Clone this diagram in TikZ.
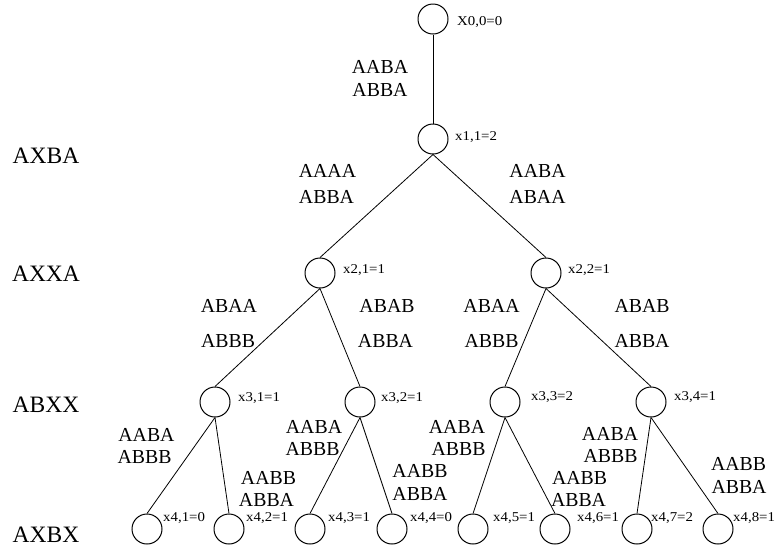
\documentclass[tikz,border=0pt]{standalone}
\usepackage{fontspec}
\setmainfont{Liberation Serif}
\usepackage{graphicx}
\newcommand\hstr[1]{\scalebox{1.1}[1]{#1}}
\tikzset{
  st/.style={circle, draw, line width=1pt, minimum size=30pt, inner sep=0pt},
  val/.style={anchor=base west, inner sep=0pt, font=\fontsize{13.5}{16}\selectfont},
  lbl/.style={anchor=base, inner sep=0pt, font=\fontsize{19.8}{23}\selectfont},
  lvl/.style={anchor=base, inner sep=0pt, font=\fontsize{23.5}{28}\selectfont},
  edge/.style={line width=0.8pt}
}
\begin{document}
\begin{tikzpicture}[x=1pt, y=-1pt]
\useasboundingbox (0,0) rectangle (776,550);
% states
\node[st] (n00) at (433,19) {};
\node[st] (n11) at (433,139) {};
\node[st] (n21) at (320,273) {};
\node[st] (n22) at (546,273) {};
\node[st] (n31) at (215,402) {};
\node[st] (n32) at (360,402) {};
\node[st] (n33) at (505,402) {};
\node[st] (n34) at (651,402) {};
\node[st] (n41) at (147,529) {};
\node[st] (n42) at (229,529) {};
\node[st] (n43) at (310,529) {};
\node[st] (n44) at (392,529) {};
\node[st] (n45) at (473,529) {};
\node[st] (n46) at (555,529) {};
\node[st] (n47) at (637,529) {};
\node[st] (n48) at (718,529) {};
% edges
\draw[edge] (n00.south) -- (n11.north);
\draw[edge] (n11.south) -- (n21.north);
\draw[edge] (n11.south) -- (n22.north);
\draw[edge] (n21.south) -- (n31.north);
\draw[edge] (n21.south) -- (n32.north);
\draw[edge] (n22.south) -- (n33.north);
\draw[edge] (n22.south) -- (n34.north);
\draw[edge] (n31.south) -- (n41.north);
\draw[edge] (n31.south) -- (n42.north);
\draw[edge] (n32.south) -- (n43.north);
\draw[edge] (n32.south) -- (n44.north);
\draw[edge] (n33.south) -- (n45.north);
\draw[edge] (n33.south) -- (n46.north);
\draw[edge] (n34.south) -- (n47.north);
\draw[edge] (n34.south) -- (n48.north);
% values
\node[val] (v00) at (457,25) {\hstr{X0,0=0}};
\node[val] (v11) at (455,140) {\hstr{x1,1=2}};
\node[val] (v21) at (343,273) {\hstr{x2,1=1}};
\node[val] (v22) at (568,273) {\hstr{x2,2=1}};
\node[val] (v31) at (238,401) {\hstr{x3,1=1}};
\node[val] (v32) at (381,401) {\hstr{x3,2=1}};
\node[val] (v33) at (531,400) {\hstr{x3,3=2}};
\node[val] (v34) at (674,400) {\hstr{x3,4=1}};
\node[val] (v41) at (163,521) {\hstr{x4,1=0}};
\node[val] (v42) at (246,521) {\hstr{x4,2=1}};
\node[val] (v43) at (328,521) {\hstr{x4,3=1}};
\node[val] (v44) at (410,521) {\hstr{x4,4=0}};
\node[val] (v45) at (493,521) {\hstr{x4,5=1}};
\node[val] (v46) at (577,521) {\hstr{x4,6=1}};
\node[val] (v47) at (651,521) {\hstr{x4,7=2}};
\node[val] (v48) at (733,521) {\hstr{x4,8=1}};
% edge labels
\node[lbl] (e01a) at (380,73) {AABA};
\node[lbl] (e01b) at (380,96) {ABBA};
\node[lbl] (e12a) at (327.5,177) {AAAA};
\node[lbl] (e12b) at (326.5,203) {ABBA};
\node[lbl] (e13a) at (537.5,177) {AABA};
\node[lbl] (e13b) at (537.5,203) {ABAA};
\node[lbl] (e23a) at (229,312) {ABAA};
\node[lbl] (e23b) at (228,347) {ABBB};
\node[lbl] (e24a) at (387,312) {ABAB};
\node[lbl] (e24b) at (385.5,347) {ABBA};
\node[lbl] (e25a) at (491.5,312) {ABAA};
\node[lbl] (e25b) at (491.5,347) {ABBB};
\node[lbl] (e26a) at (642,312) {ABAB};
\node[lbl] (e26b) at (642,347) {ABBA};
\node[lbl] (e31a) at (146.5,441) {AABA};
\node[lbl] (e31b) at (144.5,463) {ABBB};
\node[lbl] (e32a) at (268.5,484) {AABB};
\node[lbl] (e32b) at (266.5,506) {ABBA};
\node[lbl] (e33a) at (314,433) {AABA};
\node[lbl] (e33b) at (312.5,455) {ABBB};
\node[lbl] (e34a) at (420,477) {AABB};
\node[lbl] (e34b) at (420,500) {ABBA};
\node[lbl] (e35a) at (457,433) {AABA};
\node[lbl] (e35b) at (458.5,455) {ABBB};
\node[lbl] (e36a) at (579.5,484) {AABB};
\node[lbl] (e36b) at (578.5,506) {ABBA};
\node[lbl] (e37a) at (610,440) {AABA};
\node[lbl] (e37b) at (610.5,462) {ABBB};
\node[lbl] (e38a) at (738.5,470) {AABB};
\node[lbl] (e38b) at (739,493) {ABBA};
% level labels
\node[lvl] (l1) at (46,163) {AXBA};
\node[lvl] (l2) at (46,281) {AXXA};
\node[lvl] (l3) at (46,412) {ABXX};
\node[lvl] (l4) at (46,542) {AXBX};
\end{tikzpicture}
\end{document}
